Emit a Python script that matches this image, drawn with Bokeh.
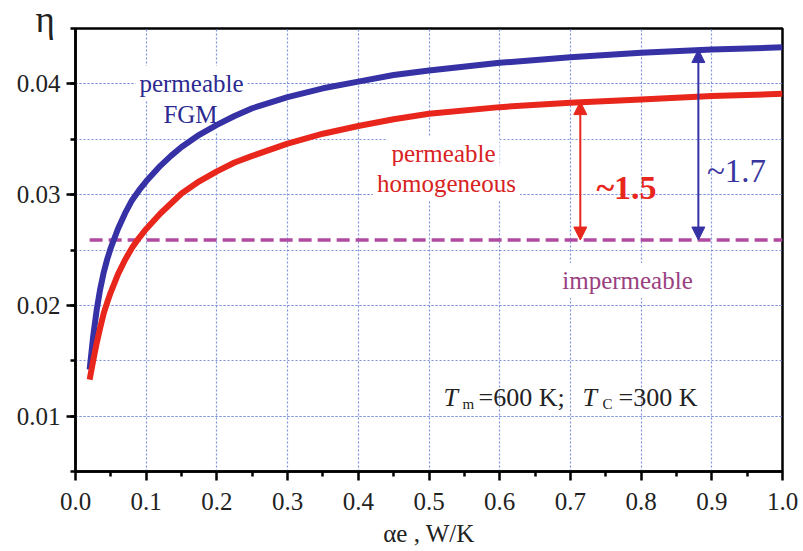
from bokeh.plotting import figure
from bokeh.models import (FixedTicker, Label, Arrow, NormalHead, ColumnDataSource,
                          Range1d, PrintfTickFormatter)
from bokeh.embed import file_html
from bokeh.resources import INLINE

# ---------------- data ----------------
alpha_e = [0.02, 0.025, 0.03, 0.035, 0.04, 0.045, 0.05, 0.06, 0.07, 0.08, 0.09,
           0.1, 0.11, 0.12, 0.135, 0.15, 0.175, 0.2, 0.225, 0.25, 0.3, 0.35,
           0.4, 0.45, 0.5, 0.6, 0.7, 0.8, 0.9, 1.0]
eta_fgm = [0.0142, 0.0172, 0.0196, 0.0215, 0.0230, 0.0242, 0.0252, 0.0269, 0.0283,
           0.0295, 0.0304, 0.0312, 0.0319, 0.0326, 0.0335, 0.0343, 0.0354, 0.0363,
           0.0371, 0.0378, 0.0388, 0.0396, 0.0402, 0.0408, 0.0412, 0.0419, 0.0424,
           0.0428, 0.0431, 0.0433]
eta_homog = [0.0133, 0.0150, 0.0166, 0.0180, 0.0193, 0.0203, 0.0212, 0.0228, 0.0241,
             0.0252, 0.0261, 0.0269, 0.0276, 0.0283, 0.0292, 0.0301, 0.0312, 0.0321,
             0.0329, 0.0335, 0.0346, 0.0355, 0.0362, 0.0368, 0.0373, 0.0379, 0.0383,
             0.0386, 0.0389, 0.0391]
imperm_x = [0.02, 1.0]
imperm_eta = [0.0259, 0.0259]

arrow_x = [0.714, 0.881]
arrow_lo = [0.0259, 0.0259]
arrow_hi = [0.0384, 0.0431]

x_ticks = [0.0, 0.1, 0.2, 0.3, 0.4, 0.5, 0.6, 0.7, 0.8, 0.9, 1.0]
x_minor = [0.05, 0.15, 0.25, 0.35, 0.45, 0.55, 0.65, 0.75, 0.85, 0.95]
y_ticks = [0.01, 0.02, 0.03, 0.04]
y_minor = [0.005, 0.01, 0.015, 0.02, 0.025, 0.03, 0.035, 0.04, 0.045]

# ---------------- style ----------------
BLUE = "#3632a6"
RED = "#e8261c"
MAG = "#b04aa0"
SERIF = "Liberation Serif"
GRID = "#7f92dc"
INK = "#222222"

p = figure(width=803, height=551, output_backend="svg", toolbar_location=None,
           x_range=Range1d(0.0, 1.0), y_range=Range1d(0.005, 0.045),
           min_border_left=75, min_border_right=21, min_border_top=28,
           min_border_bottom=80)
p.background_fill_color = "white"
p.border_fill_color = "white"
p.outline_line_color = "black"
p.outline_line_width = 2.5
p.outline_line_alpha = 1.0

# eta label at the top-left, outside the frame
p.title.text = "η"
p.title.align = "left"
p.title.offset = -40
p.title.text_font = SERIF
p.title.text_font_size = "37px"
p.title.text_font_style = "normal"
p.title.text_color = INK
p.title.standoff = -22

xt = FixedTicker(ticks=x_ticks, minor_ticks=x_minor)
yt = FixedTicker(ticks=y_ticks, minor_ticks=y_minor)
p.xaxis.ticker = xt
p.yaxis.ticker = yt
p.xaxis.formatter = PrintfTickFormatter(format="%.1f")
p.yaxis.formatter = PrintfTickFormatter(format="%.2f")
for axes in (p.xaxis, p.yaxis):
    axes.major_label_text_font = SERIF
    axes.major_label_text_font_size = "25px"
    axes.major_label_text_color = INK
    axes.axis_line_width = 2.5
    axes.axis_line_color = "black"
    axes.major_tick_line_width = 2.5
    axes.minor_tick_line_width = 2.5
    axes.major_tick_out = 9
    axes.major_tick_in = 0
    axes.minor_tick_out = 5
    axes.minor_tick_in = 0
p.xaxis.major_label_standoff = 12
p.yaxis.major_label_standoff = 6

p.xaxis.axis_label = "αe , W/K"
p.xaxis.axis_label_text_font = SERIF
p.xaxis.axis_label_text_font_size = "25px"
p.xaxis.axis_label_text_font_style = "normal"
p.xaxis.axis_label_text_color = INK
p.xaxis.axis_label_standoff = 7

p.xgrid.grid_line_color = GRID
p.xgrid.grid_line_dash = "2 2"
p.xgrid.grid_line_width = 1.2
p.ygrid.grid_line_color = GRID
p.ygrid.grid_line_dash = "2 2"
p.ygrid.grid_line_width = 1.2
p.ygrid.minor_grid_line_color = GRID
p.ygrid.minor_grid_line_dash = "2 2"
p.ygrid.minor_grid_line_width = 1.2


# pixel helpers (reference pixels -> data coordinates)
def dx(px):
    return (px - 75) / 707.0


def dy(py):
    return 0.045 - (py - 28) / 11075.0


def add_text(text, px, py, color, size, align="center", style="normal",
             font=SERIF, bg=False):
    kw = {}
    if bg:
        kw = dict(background_fill_color="white", padding=4, level="underlay")
    lab = Label(x=dx(px), y=dy(py), text=text, text_align=align,
                text_baseline="alphabetic", text_font=font,
                text_font_size=f"{size}px", text_color=color,
                text_font_style=style, **kw)
    p.add_layout(lab)


# texts with white boxes (drawn beneath curves, above grid)
add_text("permeable", 191, 83, "#2c2a90", 25, bg=True)
add_text("FGM", 190, 114, "#2c2a90", 25, bg=True)
add_text("permeable", 443, 153, "#d8221f", 25, bg=True)
add_text("homogeneous", 446, 183, "#d8221f", 25, bg=True)
add_text("impermeable", 627, 280, "#9a3f80", 25, bg=True)

# curves
src = ColumnDataSource(dict(a=alpha_e, fgm=eta_fgm, hom=eta_homog))
p.line(imperm_x, imperm_eta, line_color=MAG, line_width=3.5, line_dash="13 6")
p.line("a", "fgm", source=src, line_color=BLUE, line_width=6, line_join="round")
p.line("a", "hom", source=src, line_color=RED, line_width=6, line_join="round")

# arrows
for i, c in enumerate([RED, BLUE]):
    asrc = ColumnDataSource(dict(x=[arrow_x[i]], y0=[arrow_lo[i]], y1=[arrow_hi[i]]))
    p.add_layout(Arrow(start=NormalHead(size=13, fill_color=c, line_color=c),
                       end=NormalHead(size=13, fill_color=c, line_color=c),
                       x_start="x", y_start="y0", x_end="x", y_end="y1",
                       source=asrc, line_color=c, line_width=2))

add_text("~1.5", 626, 187, RED, 34, style="bold")
add_text("~1.7", 736, 170, "#3a36a0", 33)

# temperature annotation
add_text("T", 443, 397, INK, 26, align="left", style="italic")
add_text("m", 462, 403, INK, 15, align="left")
add_text("=600 K;", 478, 397, INK, 26, align="left")
add_text("T", 582, 397, INK, 26, align="left", style="italic")
add_text("C", 602, 403, INK, 15, align="left")
add_text("=300 K", 618, 397, INK, 26, align="left")

open("out.html", "w").write(file_html(p, INLINE))
